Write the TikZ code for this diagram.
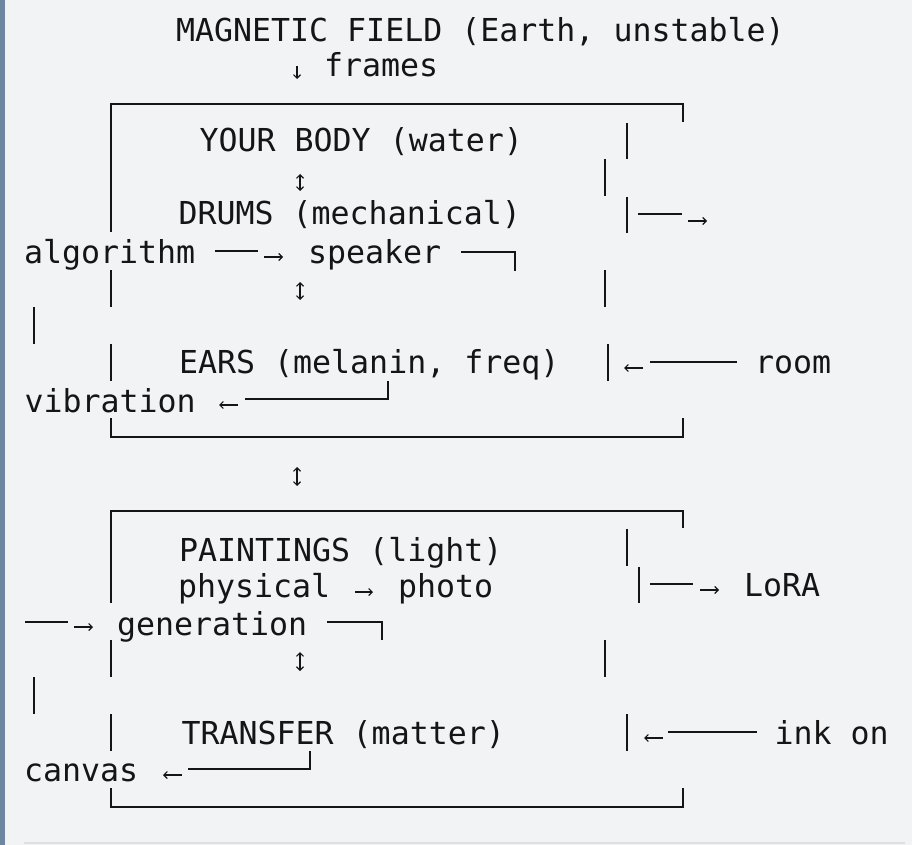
\documentclass[tikz,border=0pt]{standalone}
\usepackage{fontspec}
\usetikzlibrary{arrows.meta}
\newfontfamily\monofam{DejaVu Sans Mono}
\definecolor{bgc}{HTML}{F2F3F5}
\definecolor{barc}{HTML}{6E87A1}
\definecolor{rulec}{HTML}{DCDFE4}
\definecolor{inkc}{HTML}{151515}
\tikzset{
  txt/.style={anchor=base west, inner sep=0pt, outer sep=0pt, text=inkc, font=\monofam\fontsize{31.6}{38}\selectfont},
  ln/.style={line width=2.2pt, draw=inkc, line cap=butt, line join=miter},
  arr/.style={line width=1.1pt, draw=inkc, -{Straight Barb[length=3.5pt,width=7pt]}},
  darr/.style={line width=1.1pt, draw=inkc, {Straight Barb[length=3.5pt,width=7pt]}-{Straight Barb[length=3.5pt,width=7pt]}}
}
\begin{document}
\begin{tikzpicture}[x=1pt,y=-1pt]
\useasboundingbox (0,0) rectangle (912,845);
\fill[bgc] (0,0) rectangle (912,845);
\fill[barc] (0,0) rectangle (5,845);
\draw[rulec, line width=2pt] (24,843) -- (905,843);

% texts
\node[txt] (mag) at (176,42) {MAGNETIC FIELD (Earth, unstable)};
\node[txt] (frames) at (324,77) {frames};
\node[txt] (body) at (199.5,152) {YOUR BODY (water)};
\node[txt] (drums) at (178.5,224) {DRUMS (mechanical)};
\node[txt] (algo) at (24,263) {algorithm};
\node[txt] (speaker) at (308,263) {speaker};
\node[txt] (ears) at (179,373) {EARS (melanin, freq)};
\node[txt] (room) at (755,373) {room};
\node[txt] (vib) at (24.5,412) {vibration};
\node[txt] (paint) at (179,561) {PAINTINGS (light)};
\node[txt] (phys) at (178,597) {physical};
\node[txt] (photo) at (398,597) {photo};
\node[txt] (lora) at (744,596) {LoRA};
\node[txt] (gen) at (117,635) {generation};
\node[txt] (transfer) at (181.5,744) {TRANSFER (matter)};
\node[txt] (ink) at (774.5,744) {ink on};
\node[txt] (canvas) at (24,781) {canvas};

% small glyph arrows
\draw[arr] (297,66) -- (297,79);
\draw[darr] (300,174) -- (300,191);
\draw[arr] (688,221) -- (707,221);
\draw[arr] (264,257) -- (283,257);
\draw[darr] (300,282) -- (300,300);
\draw[arr] (643,368) -- (624,368);
\draw[arr] (238,405) -- (219,405);
\draw[darr] (297,467) -- (297,486);
\draw[arr] (355,592) -- (373,592);
\draw[arr] (700,590) -- (719,590);
\draw[arr] (74,627) -- (93,627);
\draw[darr] (300,652) -- (300,671);
\draw[arr] (663,738) -- (644,738);
\draw[arr] (182,775) -- (163,775);

% box 1
\draw[ln] (111,232) -- (111,104) -- (683,104) -- (683,122);
\draw[ln] (627,123) -- (627,159);
\draw[ln] (605,159) -- (605,196);
\draw[ln] (627,197) -- (627,233);
\draw[ln] (638,214) -- (682,214);
\draw[ln] (215,251) -- (258,251);
\draw[ln] (461,252) -- (515,252) -- (515,271);
\draw[ln] (111,270) -- (111,307);
\draw[ln] (605,270) -- (605,307);
\draw[ln] (34,307) -- (34,344);
\draw[ln] (111,344) -- (111,381);
\draw[ln] (608,344) -- (608,381);
\draw[ln] (650,362) -- (737,362);
\draw[ln] (388,381) -- (388,399) -- (245,399);
\draw[ln] (111,418) -- (111,437) -- (683,437) -- (683,418);

% box 2
\draw[ln] (111,603) -- (111,511) -- (683,511) -- (683,528);
\draw[ln] (627,529) -- (627,566);
\draw[ln] (639,567) -- (639,603);
\draw[ln] (650,584) -- (693,584);
\draw[ln] (25,622) -- (68,622);
\draw[ln] (327,622) -- (382,622) -- (382,640);
\draw[ln] (111,640) -- (111,677);
\draw[ln] (605,640) -- (605,677);
\draw[ln] (34,677) -- (34,714);
\draw[ln] (111,714) -- (111,751);
\draw[ln] (627,714) -- (627,751);
\draw[ln] (668,732) -- (757,732);
\draw[ln] (310,751) -- (310,769) -- (188,769);
\draw[ln] (111,788) -- (111,807) -- (683,807) -- (683,788);
\end{tikzpicture}
\end{document}
